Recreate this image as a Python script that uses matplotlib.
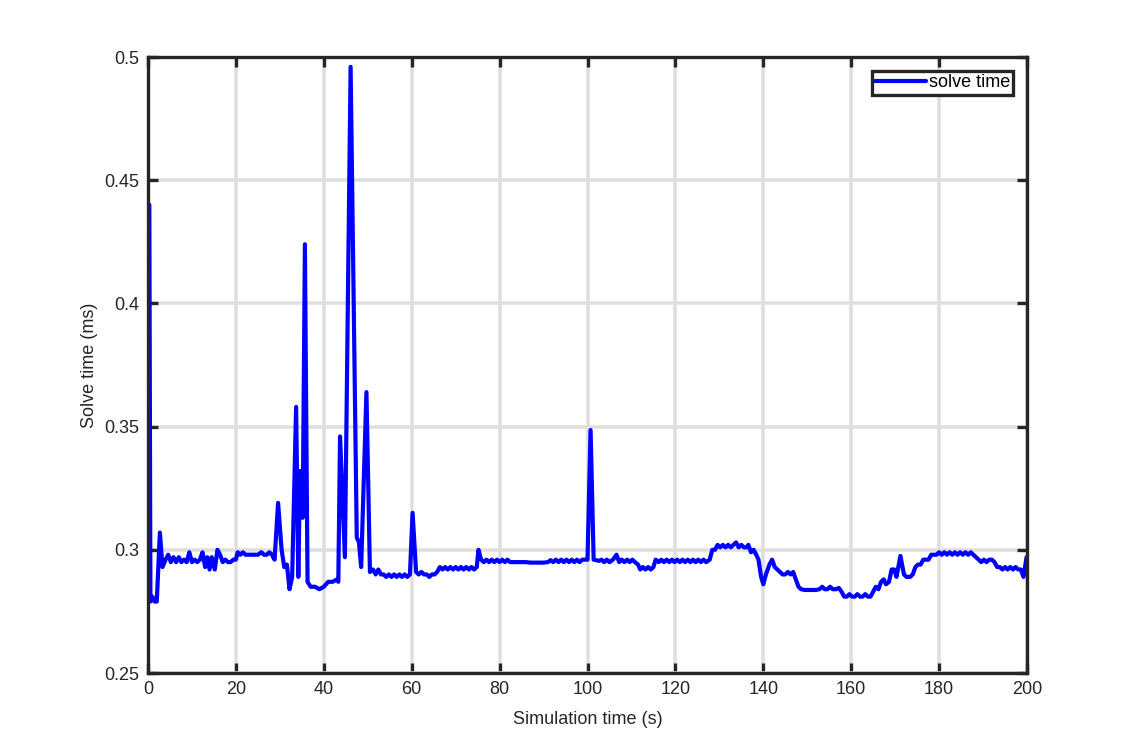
import numpy as np
import matplotlib.pyplot as plt

# simulation time (s) and solver time (ms)
sim_t = [
    0.3, 0.55, 1.0, 1.5, 2.0, 2.7, 3.3, 4.0, 4.6, 5.2, 5.8, 6.4, 7.0, 7.6, 8.2, 8.8,
    9.4, 10.0, 10.6, 11.2, 11.8, 12.4, 13.0, 13.5, 14.0, 14.5, 15.2, 15.8, 16.4,
    17.0, 17.6, 18.2, 18.8, 19.4, 20.0, 20.4, 21.0, 21.6, 22.2, 23.0, 24.0, 25.0,
    25.8, 26.4, 27.0, 27.6, 28.2, 28.8, 29.6, 30.4, 31.0, 31.6, 32.2, 32.8, 33.7,
    34.2, 34.6, 35.2, 35.7, 36.3, 37.0, 38.0, 39.0, 40.0, 41.0, 42.0, 43.0, 43.3,
    43.7, 44.8, 46.1, 47.5, 48.0, 48.5, 49.7, 50.5, 51.2, 51.8, 52.4, 53.0, 53.6,
    54.2, 54.8, 55.4, 56.0, 56.6, 57.2, 57.8, 58.4, 59.0, 59.6, 60.2, 61.0, 61.6,
    62.2, 62.8, 63.4, 64.0, 64.6, 65.2, 65.8, 66.4, 67.0, 67.6, 68.2, 68.8, 69.4,
    70.0, 70.6, 71.2, 71.8, 72.4, 73.0, 73.6, 74.2, 74.8, 75.2, 75.8, 76.4, 77.0,
    77.6, 78.2, 78.8, 79.4, 80.0, 80.6, 81.2, 81.8, 82.4, 83.0, 84.0, 85.0, 86.0,
    87.0, 88.0, 89.0, 90.0, 91.0, 91.6, 92.2, 92.8, 93.4, 94.0, 94.6, 95.2, 95.8,
    96.4, 97.0, 97.6, 98.2, 98.8, 99.6, 100.0, 100.7, 101.4, 102.0, 102.6, 103.2,
    103.8, 104.4, 105.0, 105.8, 106.6, 107.2, 107.8, 108.4, 109.0, 109.6, 110.2,
    110.8, 111.5, 112.0, 112.6, 113.2, 113.8, 114.4, 115.0, 115.5, 116.2, 116.8,
    117.4, 118.0, 118.6, 119.2, 119.8, 120.4, 121.0, 121.6, 122.2, 122.8, 123.4,
    124.0, 124.6, 125.2, 125.8, 126.4, 127.0, 127.8, 128.4, 129.0, 129.6, 130.2,
    130.8, 131.4, 132.0, 132.6, 133.2, 133.8, 134.4, 135.0, 135.6, 136.2, 136.6,
    137.2, 137.8, 138.4, 138.9, 139.5, 140.0, 140.6, 141.4, 142.0, 142.6, 143.2,
    143.8, 144.4, 145.0, 145.6, 146.2, 146.8, 147.4, 148.0, 148.6, 149.4, 150.0,
    151.0, 152.0, 152.8, 153.4, 154.0, 154.6, 155.2, 155.8, 156.6, 157.2, 157.8,
    158.4, 159.0, 159.6, 160.2, 160.8, 161.4, 162.0, 162.6, 163.2, 163.8, 164.4,
    165.0, 165.6, 166.2, 166.8, 167.4, 167.9, 168.6, 169.2, 169.8, 170.3, 171.2,
    172.0, 172.6, 173.4, 174.0, 174.6, 175.2, 175.8, 176.4, 177.0, 177.6, 178.2,
    178.8, 179.4, 180.0, 180.6, 181.2, 181.8, 182.4, 183.0, 183.6, 184.2, 184.8,
    185.4, 186.0, 186.6, 187.2, 187.8, 188.4, 189.0, 189.6, 190.2, 190.8, 191.4,
    192.0, 192.6, 193.2, 193.8, 194.4, 195.0, 195.6, 196.2, 196.8, 197.4, 198.0,
    198.6, 199.2, 199.9,
]
solve_ms = [
    0.440, 0.279, 0.281, 0.279, 0.279, 0.307, 0.293, 0.296, 0.298, 0.295, 0.297,
    0.295, 0.297, 0.295, 0.296, 0.295, 0.299, 0.295, 0.296, 0.295, 0.296, 0.299,
    0.293, 0.297, 0.292, 0.297, 0.292, 0.300, 0.298, 0.295, 0.296, 0.295, 0.295,
    0.296, 0.296, 0.299, 0.298, 0.299, 0.298, 0.298, 0.298, 0.298, 0.299, 0.298,
    0.298, 0.299, 0.298, 0.296, 0.319, 0.300, 0.293, 0.294, 0.284, 0.289, 0.358,
    0.289, 0.332, 0.313, 0.424, 0.287, 0.285, 0.285, 0.284, 0.285, 0.287, 0.287,
    0.288, 0.287, 0.346, 0.297, 0.496, 0.305, 0.303, 0.293, 0.364, 0.291, 0.292,
    0.290, 0.292, 0.290, 0.290, 0.289, 0.290, 0.289, 0.290, 0.289, 0.290, 0.289,
    0.290, 0.289, 0.290, 0.315, 0.291, 0.290, 0.291, 0.290, 0.290, 0.289, 0.290,
    0.290, 0.291, 0.293, 0.292, 0.293, 0.292, 0.293, 0.292, 0.293, 0.292, 0.293,
    0.292, 0.293, 0.292, 0.293, 0.292, 0.293, 0.300, 0.296, 0.295, 0.296, 0.295,
    0.296, 0.295, 0.296, 0.295, 0.296, 0.295, 0.296, 0.295, 0.295, 0.295, 0.295,
    0.295, 0.2948, 0.2948, 0.2948, 0.2948, 0.2950, 0.2958, 0.2950, 0.296, 0.295,
    0.296, 0.295, 0.296, 0.295, 0.296, 0.295, 0.296, 0.295, 0.296, 0.296, 0.296,
    0.3486, 0.296, 0.2958, 0.2955, 0.296, 0.295, 0.296, 0.295, 0.296, 0.298,
    0.295, 0.296, 0.295, 0.296, 0.295, 0.296, 0.295, 0.294, 0.292, 0.293, 0.292,
    0.293, 0.292, 0.293, 0.296, 0.295, 0.296, 0.295, 0.296, 0.295, 0.296, 0.295,
    0.296, 0.295, 0.296, 0.295, 0.296, 0.295, 0.296, 0.295, 0.296, 0.295, 0.296,
    0.295, 0.296, 0.300, 0.300, 0.302, 0.301, 0.302, 0.301, 0.302, 0.301, 0.302,
    0.303, 0.301, 0.302, 0.301, 0.301, 0.302, 0.299, 0.300, 0.298, 0.296, 0.289,
    0.286, 0.290, 0.294, 0.296, 0.293, 0.292, 0.291, 0.290, 0.290, 0.291, 0.290,
    0.291, 0.288, 0.285, 0.284, 0.2837, 0.2837, 0.2837, 0.2837, 0.284, 0.285,
    0.284, 0.284, 0.285, 0.284, 0.284, 0.2845, 0.283, 0.281, 0.281, 0.282, 0.281,
    0.281, 0.282, 0.281, 0.281, 0.282, 0.281, 0.281, 0.283, 0.285, 0.284, 0.287,
    0.288, 0.286, 0.287, 0.292, 0.292, 0.289, 0.2975, 0.290, 0.289, 0.289, 0.290,
    0.293, 0.294, 0.294, 0.296, 0.296, 0.296, 0.298, 0.298, 0.298, 0.299, 0.298,
    0.299, 0.298, 0.299, 0.298, 0.299, 0.298, 0.299, 0.298, 0.299, 0.298, 0.299,
    0.298, 0.297, 0.296, 0.295, 0.296, 0.295, 0.296, 0.296, 0.295, 0.293, 0.293,
    0.292, 0.293, 0.292, 0.293, 0.292, 0.293, 0.292, 0.292, 0.289, 0.297,
]
x_ticks = [0, 20, 40, 60, 80, 100, 120, 140, 160, 180, 200]
y_ticks = [0.25, 0.3, 0.35, 0.4, 0.45, 0.5]
y_tick_labels = ['0.25', '0.3', '0.35', '0.4', '0.45', '0.5']

plt.rcParams['font.family'] = ['Liberation Sans', 'DejaVu Sans']
edge = '#262626'
fs = 13

fig = plt.figure(figsize=(11.34, 7.56), dpi=100)
ax = fig.add_axes([148 / 1134, 83 / 756, 879 / 1134, 616 / 756])

ax.plot(sim_t, solve_ms, color=(0, 0, 1), linewidth=3.0,
        solid_joinstyle='round', solid_capstyle='round', label='solve time')

ax.set_xlim(0, 200)
ax.set_ylim(0.25, 0.5)
ax.set_xticks(x_ticks)
ax.set_yticks(y_ticks)
ax.set_yticklabels(y_tick_labels)

ax.grid(True, color='#dfdfdf', linewidth=2.6)
ax.set_axisbelow(True)
for s in ax.spines.values():
    s.set_linewidth(2.4)
    s.set_color(edge)
    s.set_zorder(5)
ax.tick_params(direction='in', length=7, width=2.4, color=edge,
               labelsize=fs, labelcolor='#262626', pad=6,
               top=True, right=True)

ax.set_xlabel('Simulation time (s)', fontsize=fs, color='#262626', labelpad=9)
ax.set_ylabel('Solve time (ms)', fontsize=fs, color='#262626', labelpad=5)

leg = ax.legend(loc='upper right', fontsize=fs, fancybox=False,
                framealpha=1, borderpad=0.2, handlelength=2.8,
                handletextpad=0.15, borderaxespad=0.75)
leg.get_frame().set_edgecolor(edge)
leg.get_frame().set_linewidth(2.4)

fig.savefig('out.png', dpi=100)
